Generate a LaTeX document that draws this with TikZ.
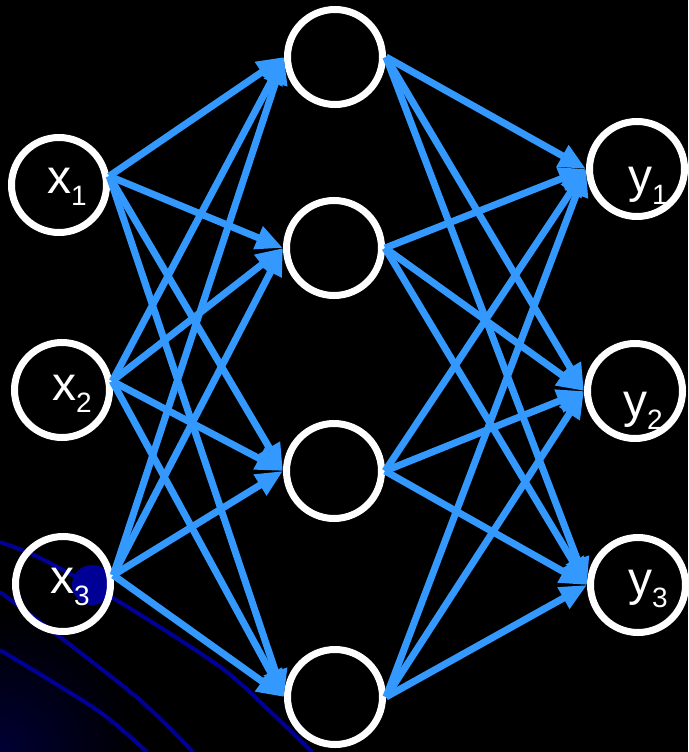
\documentclass[tikz,border=0pt]{standalone}
\usepackage{fontspec}
\setmainfont{Liberation Sans}
\usetikzlibrary{arrows.meta}
\definecolor{netblue}{RGB}{51,153,255}
\definecolor{bgnavy}{RGB}{0,0,150}
\newcommand{\nlab}[2]{{\fontsize{48}{48}\selectfont #1}\raisebox{-12pt}{\fontsize{28}{28}\selectfont #2}}

\begin{document}
\begin{tikzpicture}[x=1pt,y=-1pt,
  unit/.style={circle,draw=white,line width=7pt,minimum size=95pt,inner sep=0pt},
  lbl/.style={text=white,anchor=base west,inner sep=0pt},
  link/.style={draw=netblue,line width=7pt,-{Triangle[length=27pt,width=23pt]}},
  swirl/.style={draw=bgnavy,line width=4pt}]
\fill[black] (0,0) rectangle (688,752);
\useasboundingbox (0,0) rectangle (688,752);
\shade[inner color=bgnavy!35!black,outer color=black] (0,752) circle (140pt);
\draw[swirl] plot[smooth] coordinates {(0,542) (40,558) (113,598) (200,653) (240,683) (312,752)};
\draw[swirl] plot[smooth] coordinates {(0,592) (60,637) (140,700) (193,752)};
\draw[swirl] plot[smooth] coordinates {(0,650) (97,710) (147,752)};
\fill[bgnavy] (92,585) circle (20pt);

\node[unit] (x1) at (59,185) {};\node[unit] (x2) at (62,390) {};\node[unit] (x3) at (63,584) {};
\node[unit] (h1) at (335,57) {};\node[unit] (h2) at (334,248) {};
\node[unit] (h3) at (334,471) {};\node[unit] (h4) at (335,697) {};
\node[unit] (y1) at (637,169) {};\node[unit] (y2) at (635,391) {};\node[unit] (y3) at (638,585) {};

\foreach \i in {1,2,3}{\foreach \j in {1,...,4}{\draw[link] (x\i.10)--(h\j.west);}}
\foreach \j in {1,...,4}{\foreach \k in {1,2,3}{\draw[link] (h\j.east)--(y\k.west);}}

\node[lbl] (lx1) at (47,193){\nlab{x}{1}};\node[lbl] (lx2) at (52,400){\nlab{x}{2}};
\node[lbl] (lx3) at (50,593){\nlab{x}{3}};
\node[lbl] (ly1) at (628,192){\nlab{y}{1}};\node[lbl] (ly2) at (623,417){\nlab{y}{2}};
\node[lbl] (ly3) at (628,595){\nlab{y}{3}};
\end{tikzpicture}
\end{document}
